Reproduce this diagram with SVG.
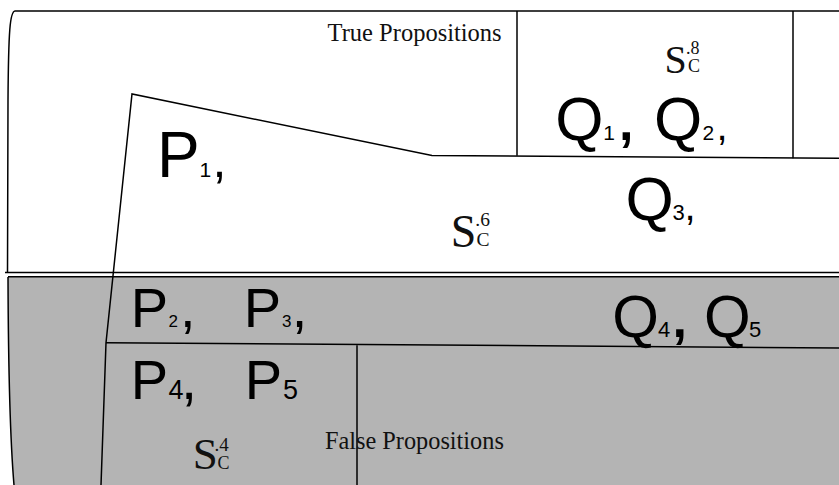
<svg xmlns="http://www.w3.org/2000/svg" width="839" height="485" viewBox="0 0 839 485">
<style>
.ln{fill:none;stroke:#000;stroke-width:1.5}
.sans{font-family:"Liberation Sans",Arial,sans-serif;fill:#000}
.serif{font-family:"Liberation Serif","Times New Roman",serif;fill:#111}
</style>
<rect x="0" y="0" width="839" height="485" fill="#fff"/>
<g id="false-region">
<path d="M8,276.5 L839,276.5 L839,485 L14,485 Q8.5,420 8,276.5 Z" fill="#b4b4b4"/>
</g>
<g id="connectors">
<path class="ln" d="M839,11 L15,11 C10,11.5 8.5,30 8,100 L7.5,273"/>
<path class="ln" d="M8,277 Q8.5,420 14,485" stroke-width="2"/>
<line class="ln" x1="5" y1="272.5" x2="839" y2="272.5" stroke-width="1.8"/>
<line class="ln" x1="8" y1="276.8" x2="839" y2="276.8" stroke-width="1.8" stroke="#222"/>
<polyline class="ln" points="839,158.3 432,155.5 132,94 106,342.7 101,485"/>
<line class="ln" x1="106" y1="342.7" x2="839" y2="348"/>
<line class="ln" x1="517" y1="11" x2="517" y2="155.8"/>
<line class="ln" x1="793" y1="11" x2="793" y2="158.2"/>
<line class="ln" x1="357" y1="345.3" x2="357" y2="485"/>
</g>
<g id="true-label"><text class="serif" x="327.6" y="40.7" font-size="24.5">True Propositions</text></g>
<g id="false-label"><text class="serif" x="325" y="449.3" font-size="24.3">False Propositions</text></g>
<g id="S8">
<text class="serif" x="664.5" y="72.5" font-size="40">S</text>
<text class="serif" x="686" y="53.5" font-size="18">.8</text>
<text class="serif" x="688" y="72" font-size="18">C</text>
</g>
<g id="S6">
<text class="serif" x="450.7" y="246.8" font-size="46">S</text>
<text class="serif" x="475.3" y="226" font-size="19.5">.6</text>
<text class="serif" x="476.4" y="246" font-size="19.5">C</text>
</g>
<g id="S4">
<text class="serif" x="192.7" y="469" font-size="45">S</text>
<text class="serif" x="214.5" y="450.7" font-size="19">.4</text>
<text class="serif" x="217.5" y="469" font-size="18">C</text>
</g>
<g id="P1">
<text class="sans" x="157" y="176.7" font-size="64">P</text>
<text class="sans" x="199.6" y="176.7" font-size="21">1</text>
<text class="sans" x="212.5" y="176.7" font-size="50">,</text>
</g>
<g id="P2">
<text class="sans" x="130.7" y="327.3" font-size="56">P</text>
<text class="sans" x="168.5" y="327.3" font-size="17">2</text>
<text class="sans" x="180.1" y="327.3" font-size="56">,</text>
</g>
<g id="P3">
<text class="sans" x="243.7" y="327.3" font-size="56">P</text>
<text class="sans" x="282" y="327.3" font-size="17">3</text>
<text class="sans" x="291.8" y="327.3" font-size="56">,</text>
</g>
<g id="P4">
<text class="sans" x="130.7" y="399.3" font-size="56">P</text>
<text class="sans" x="168.6" y="399.3" font-size="27">4</text>
<text class="sans" x="181.1" y="399.3" font-size="58">,</text>
</g>
<g id="P5">
<text class="sans" x="244.7" y="399.3" font-size="56">P</text>
<text class="sans" x="283.1" y="399.3" font-size="27">5</text>
</g>
<g id="Q1">
<text class="sans" x="555.2" y="140" font-size="62">Q</text>
<text class="sans" x="603.3" y="140" font-size="21">1</text>
<text class="sans" x="619" y="140" font-size="52" font-weight="bold">,</text>
</g>
<g id="Q2">
<text class="sans" x="653.9" y="140" font-size="62">Q</text>
<text class="sans" x="702.5" y="140" font-size="21">2</text>
<text class="sans" x="716.5" y="140" font-size="40">,</text>
</g>
<g id="Q3">
<text class="sans" x="625.5" y="220" font-size="62">Q</text>
<text class="sans" x="672.5" y="220" font-size="22">3</text>
<text class="sans" x="684.5" y="220" font-size="40">,</text>
</g>
<g id="Q4">
<text class="sans" x="612.3" y="337.3" font-size="60">Q</text>
<text class="sans" x="658" y="337.3" font-size="22">4</text>
<text class="sans" x="672.5" y="337.3" font-size="52" font-weight="bold">,</text>
</g>
<g id="Q5">
<text class="sans" x="704" y="337.3" font-size="60">Q</text>
<text class="sans" x="749" y="337.3" font-size="22">5</text>
</g>
</svg>
